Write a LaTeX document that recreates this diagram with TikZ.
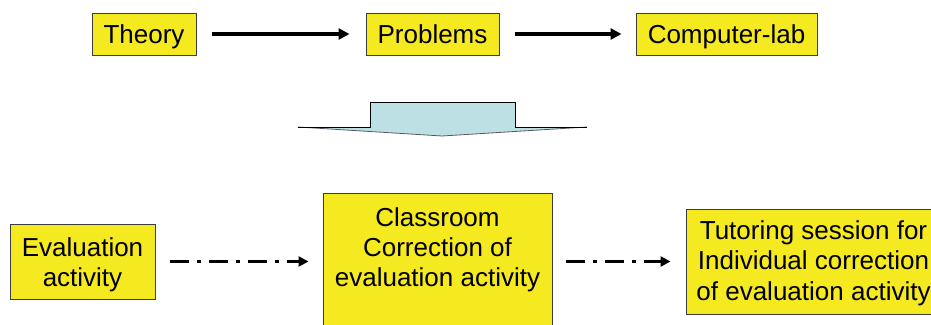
\documentclass[tikz,border=0pt]{standalone}
\usepackage{fontspec}
\setmainfont{Liberation Sans}
\usetikzlibrary{arrows.meta}
\definecolor{boxyellow}{RGB}{245,233,32}
\definecolor{boxline}{RGB}{60,60,60}
\definecolor{arrowblue}{RGB}{189,224,228}
\definecolor{arrowedge}{RGB}{90,90,90}
\begin{document}
\begin{tikzpicture}[x=1pt,y=-1pt,
  box/.style={draw=boxline, line width=1pt, fill=boxyellow, inner sep=0pt,
    font=\fontsize{26}{30}\selectfont, align=center},
  onebox/.style={box, text height=18.6pt, text depth=0pt, minimum height=42pt},
  txt/.style={inner sep=0pt, font=\fontsize{26}{30}\selectfont, align=center},
  solidarrow/.style={line width=3.5pt, -{Triangle[length=11pt,width=11pt]}},
  dasharrow/.style={line width=3.5pt, dash pattern=on 19pt off 8pt on 4pt off 8pt,
    -{Triangle[length=10pt,width=10pt]}}]
\useasboundingbox (0,0) rectangle (931,324);

% top row
\node[onebox, minimum width=104pt] (theory) at (144,34) {Theory};
\node[onebox, minimum width=133pt] (problems) at (432.5,34) {Problems};
\node[onebox, minimum width=181pt] (lab) at (726.5,34) {Computer-lab};
\draw[solidarrow] ([xshift=15pt]theory.east) -- ([xshift=-16pt]problems.west);
\draw[solidarrow] ([xshift=15pt]problems.east) -- ([xshift=-14pt]lab.west);

% block arrow
\fill[arrowblue] (298,127) -- (370,127) -- (370,102) -- (515,102) -- (515,127)
  -- (587,127) -- (442,136) -- cycle;
\draw[arrowedge, line width=0.8pt] (298,127) -- (442,136) -- (587,127);
\draw[black, line width=1pt] (298,127) -- (370,127) -- (370,102) -- (515,102)
  -- (515,127) -- (587,127);

% bottom row
\node[box, minimum width=145pt, minimum height=75pt] (eval) at (82.5,261.5)
  {\rule{0pt}{24.5pt}Evaluation\\activity};
\node[box, anchor=north, minimum width=229pt, minimum height=200pt] (cls) at (437.5,193) {};
\node[txt, anchor=north] (clstext) at (437.5,207.5)
  {Classroom\\Correction of\\evaluation activity};
\node[box, font=\fontsize{26}{30.5}\selectfont, minimum width=255pt, minimum height=105pt]
  (tut) at (813.5,261.5)
  {\rule{0pt}{21.5pt}Tutoring session for\\Individual correction\\of evaluation activity};

\draw[dasharrow] ([xshift=14pt]eval.east) -- ([xshift=-14pt]cls.west |- eval.east);
\draw[dasharrow] ([xshift=13pt]cls.east |- tut.west) -- ([xshift=-15pt]tut.west);
\end{tikzpicture}
\end{document}
